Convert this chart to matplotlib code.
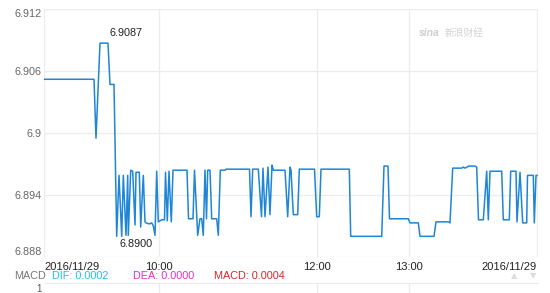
import matplotlib
matplotlib.use('Agg')
import matplotlib.pyplot as plt

plt.rcParams['font.family'] = ['Liberation Sans', 'Noto Sans CJK SC', 'DejaVu Sans']

# sample index along the session and the USD/CNY price at each turning point
t = [0, 50, 52, 56, 64, 66, 70, 72.7, 75, 77.7, 79.3, 82, 83.7, 84.3, 86.7, 88.7,
     91, 92, 95.3, 96.7, 99.3, 101, 102, 105.3, 107.7, 109.3, 111, 112.7, 114.3,
     117.7, 120.5, 121.5, 123.3, 125, 127.3, 129, 143, 144.5, 149, 150.5, 153.7,
     156, 157.7, 159.3, 161, 162.5, 163.7, 166, 167.7, 172.7, 174.3, 176.3, 181,
     182, 205.5, 207, 208.7, 214.3, 217.5, 219, 221, 224, 226, 228, 229.3, 241,
     243.7, 246, 247, 249.3, 253.7, 255.3, 270.5, 272.7, 275.3, 277, 305.3, 306.7,
     337.7, 340, 344, 345.5, 364.3, 366, 374.3, 376, 390, 392, 404.3, 406, 408.7,
     417.7, 419.3, 421, 424.7, 431, 432.7, 434.5, 439.3, 442.7, 444.3, 446, 457.7,
     459.3, 465.3, 466.7, 472, 473, 476, 478.7, 482.7, 483.5, 489.3, 490.3, 492, 493]
price = [6.9052, 6.9052, 6.8995, 6.9087, 6.9087, 6.9047, 6.9047, 6.8900, 6.8959,
         6.8900, 6.8959, 6.8901, 6.8959, 6.8901, 6.8964, 6.8963, 6.8911, 6.8962,
         6.8962, 6.8909, 6.8959, 6.8914, 6.8913, 6.8912, 6.8913, 6.8910, 6.8901,
         6.8963, 6.8914, 6.8916, 6.8916, 6.8962, 6.8915, 6.8963, 6.8914, 6.8964,
         6.8964, 6.8917, 6.8917, 6.8964, 6.8901, 6.8917, 6.8917, 6.8901, 6.8964,
         6.8917, 6.8964, 6.8964, 6.8917, 6.8917, 6.8901, 6.8964, 6.8964, 6.8965,
         6.8965, 6.8919, 6.8965, 6.8965, 6.8919, 6.8966, 6.8919, 6.8967, 6.8921,
         6.8969, 6.8964, 6.8964, 6.8919, 6.8967, 6.8964, 6.8921, 6.8921, 6.8965,
         6.8965, 6.8919, 6.8919, 6.8965, 6.8965, 6.8900, 6.8900, 6.8968, 6.8968,
         6.8917, 6.8917, 6.8913, 6.8913, 6.8900, 6.8900, 6.8914, 6.8914, 6.8913,
         6.8966, 6.8966, 6.8967, 6.8966, 6.8968, 6.8968, 6.8967, 6.8916, 6.8916,
         6.8963, 6.8916, 6.8963, 6.8963, 6.8916, 6.8916, 6.8963, 6.8963, 6.8914,
         6.8962, 6.8913, 6.8913, 6.8959, 6.8959, 6.8913, 6.8959, 6.8959]

y_ticks = [6.888, 6.894, 6.9, 6.906, 6.912]
y_labels = ['6.888', '6.894', '6.9', '6.906', '6.912']
x_ticks = [0, 115, 273, 365, 493]
x_labels = ['2016/11/29', '10:00', '12:00', '13:00', '2016/11/29']

hi_label = '6.9087'
lo_label = '6.8900'

W, H = 550, 293
fig = plt.figure(figsize=(W / 100, H / 100), dpi=100)

# main price panel
ax = fig.add_axes([44 / W, 1 - 257 / H, 494 / W, 248 / H])
ax.plot(t, price, color='#1f86d6', lw=1.1)
ax.set_xlim(0, 494)
ax.set_ylim(6.888, 6.912)
ax.set_yticks(y_ticks)
ax.set_yticklabels(y_labels)
ax.set_xticks(x_ticks)
ax.set_xticklabels(x_labels)
for s in ax.spines.values():
  s.set_visible(False)
ax.grid(True, color='#ececec', lw=0.9)
ax.tick_params(length=0, labelsize=7.8, colors='#555555', pad=1.5)
ax.tick_params(axis='x', pad=3.5, colors='#222222', labelsize=8)
ylabs = ax.get_yticklabels()
ylabs[0].set_va('bottom')
ylabs[-1].set_va('top')
for lab in ylabs:
  lab.set_color('#666666')
xlabs = ax.get_xticklabels()
xlabs[0].set_ha('left')
xlabs[-1].set_ha('right')

# max / min labels
i_hi = price.index(max(price))
i_lo = price.index(min(price))
ax.annotate(hi_label, (t[i_hi] + 10, max(price)), xytext=(0, 4), textcoords='offset points',
            fontsize=7.8, color='#222222', ha='left', va='bottom')
ax.annotate(lo_label, (t[i_lo] + 2.5, min(price)), xytext=(0, -2), textcoords='offset points',
            fontsize=7.8, color='#222222', ha='left', va='top')

# watermark
fig.text(419 / W, 1 - 33 / H, 'sina', fontsize=7.5, color='#cfcfcf', style='italic',
         weight='bold', va='center', ha='left')
fig.text(445 / W, 1 - 33 / H, '新浪财经', fontsize=7, color='#d2d2d2', style='italic',
         va='center', ha='left')

# MACD strip
ax2 = fig.add_axes([44 / W, 1 - 303 / H, 494 / W, 20 / H])
ax2.set_xlim(0, 494)
ax2.set_ylim(-0.5, 1.5)
ax2.set_xticks(x_ticks[1:4])
ax2.set_xticklabels([])
ax2.set_yticks([1])
ax2.set_yticklabels(['1'])
for s in ax2.spines.values():
  s.set_visible(False)
ax2.spines['top'].set_visible(True)
ax2.spines['top'].set_color('#ececec')
ax2.grid(True, axis='x', color='#ececec', lw=0.9)
ax2.tick_params(length=0, labelsize=7, colors='#555555', pad=1.5)

fy = 1 - 276 / H
fig.text(14 / W, fy, 'MACD', fontsize=7.8, color='#777777', va='center')
fig.text(52 / W, fy, 'DIF: 0.0002', fontsize=7.8, color='#1ec0f0', va='center')
fig.text(133 / W, fy, 'DEA: 0.0000', fontsize=7.8, color='#dd33cc', va='center')
fig.text(214 / W, fy, 'MACD: 0.0004', fontsize=7.8, color='#d22a2a', va='center')
fig.text(514 / W, fy, '▲', fontsize=6, color='#dddddd', va='center', ha='center',
         family='DejaVu Sans')
fig.text(533 / W, fy, '▼', fontsize=6, color='#dddddd', va='center', ha='center',
         family='DejaVu Sans')

fig.savefig('out.png', dpi=100, facecolor='white')
